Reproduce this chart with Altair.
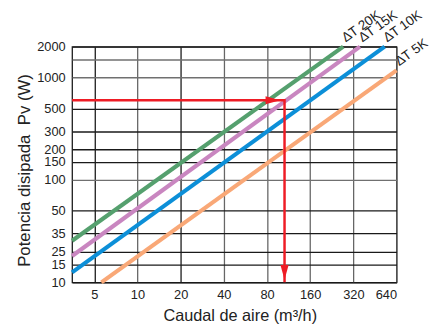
import altair as alt
import pandas as pd

# ---- data ----
series = ["∆T 20K", "∆T 15K", "∆T 10K", "∆T 5K"]
colors = ["#55A06E", "#C986C0", "#0C8FD8", "#F9A877"]
x_start = [3.5, 3.5, 3.5, 5.6]
y_start = [25.5, 18.1, 12.5, 10.0]
x_end = [272, 356, 529, 640]
y_end = [2000, 2000, 2000, 1175]

x_ticks = [5, 10, 20, 40, 80, 160, 320, 640]
y_grid = [10, 15, 20, 30, 50, 100, 150, 200, 300, 500, 1000, 1500, 2000]
y_labels = ["10", "15", "25", "35", "50", "100", "150", "200", "300", "500", "1000", "", "2000"]

red_x = [3.5, 106, 106]
red_y = [600, 600, 10]
head_x = [88, 106]
head_y = [600, 12.5]
head_shape = ["M-1,-0.55L1,0L-1,0.55Z", "M-0.55,-1L0,1L0.55,-1Z"]

x_min, x_max = 3.5, 640
y_min, y_max = 10, 2000

FONT = "Liberation Sans, Arial, sans-serif"

# ---- tables ----
rows = []
for s, xs, ys, xe, ye in zip(series, x_start, y_start, x_end, y_end):
    rows.append({"series": s, "x": xs, "y": ys, "o": 0})
    rows.append({"series": s, "x": xe, "y": ye, "o": 1})
lines_df = pd.DataFrame(rows)
labels_df = pd.DataFrame({"series": series, "x": x_end, "y": y_end})
red_df = pd.DataFrame({"x": red_x, "y": red_y, "o": list(range(len(red_x)))})
head_df = pd.DataFrame({"x": head_x, "y": head_y, "shape": head_shape})

label_map = " : ".join(
    [f"datum.value == {v} ? '{l}'" for v, l in zip(y_grid, y_labels) if l != str(v)]
) + " : datum.label"

xscale = alt.Scale(type="log", domain=[x_min, x_max], nice=False)
yscale = alt.Scale(type="log", domain=[y_min, y_max], nice=False)

xaxis = alt.Axis(
    values=x_ticks, format="d", title="Caudal de aire (m³/h)",
    grid=True, ticks=False, domain=False, labelOverlap=False,
    gridColor={"condition": {"test": "datum.value == 5 || datum.value == 20", "value": "#1a1a1a"}, "value": "#666666"},
    gridWidth=1.3, labelPadding=6, titlePadding=7, titleFontSize=16.5, titleX=170,
)
yaxis = alt.Axis(
    values=y_grid, format="d", labelExpr=label_map,
    title="Potencia disipada\u00a0 Pv (W)",
    grid=True, ticks=False, domain=False, labelOverlap=False,
    gridColor={"condition": {"test": "datum.value == 100 || datum.value == 1000 || datum.value == 1500", "value": "#707070"}, "value": "#1a1a1a"},
    gridWidth=1.3, labelPadding=7, titlePadding=3, titleFontSize=17, titleY=125,
)

base_x = alt.X("x:Q", scale=xscale, axis=xaxis)
base_y = alt.Y("y:Q", scale=yscale, axis=yaxis)

lines = alt.Chart(lines_df).mark_line(strokeWidth=4.2, strokeCap="butt").encode(
    x=base_x, y=base_y,
    color=alt.Color("series:N", scale=alt.Scale(domain=series, range=colors), legend=None),
    order="o:Q",
)

labels = alt.Chart(labels_df).mark_text(
    angle=324.5, align="left", baseline="alphabetic", dx=5, dy=-2,
    fontSize=13.5, font=FONT, color="#222222",
).encode(x=alt.X("x:Q", scale=xscale), y=alt.Y("y:Q", scale=yscale), text="series:N")

red = alt.Chart(red_df).mark_line(color="#EE1C25", strokeWidth=2.5).encode(
    x=alt.X("x:Q", scale=xscale), y=alt.Y("y:Q", scale=yscale), order="o:Q"
)

heads = alt.Chart(head_df).mark_point(filled=True, color="#EE1C25", size=225, opacity=1).encode(
    x=alt.X("x:Q", scale=xscale), y=alt.Y("y:Q", scale=yscale),
    shape=alt.Shape("shape:N", scale=None),
)

chart = alt.layer(lines, labels, red, heads).properties(
    width=329, height=239,
    autosize=alt.AutoSizeParams(type="none"),
    padding={"left": 65, "top": 37, "right": 38, "bottom": 41},
).configure_view(
    stroke="#1a1a1a", strokeWidth=1.3
).configure_axis(
    labelFont=FONT, titleFont=FONT, labelFontSize=13,
    titleFontWeight="normal", labelColor="#222222", titleColor="#222222",
)

chart.save("out.html", embed_options={"renderer": "svg", "actions": False})
